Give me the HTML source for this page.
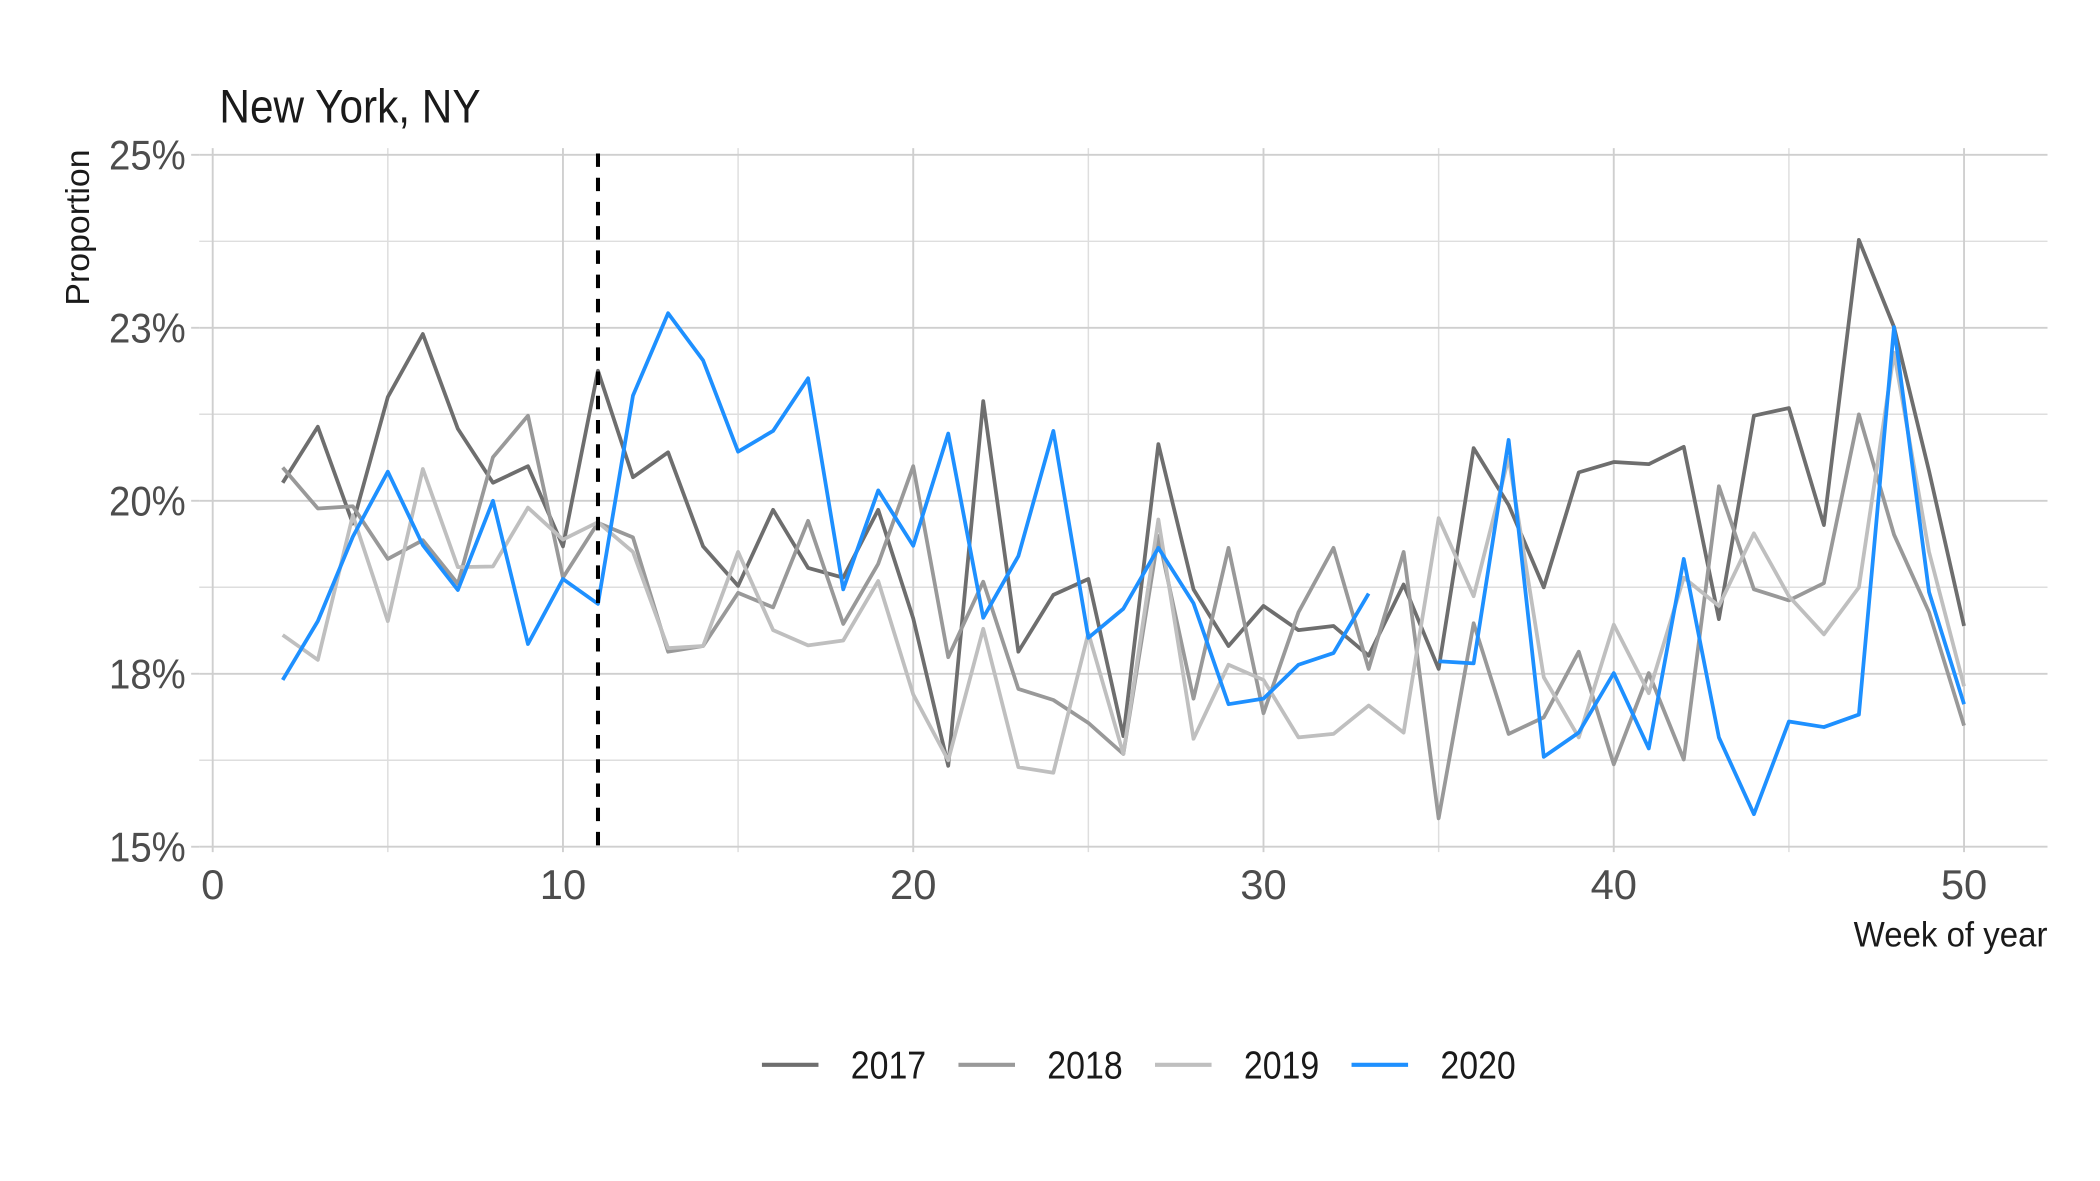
<!DOCTYPE html>
<html><head><meta charset="utf-8"><style>
html,body{margin:0;padding:0;background:#fff;}
svg{display:block;}
text{font-family:"Liberation Sans Narrow","Liberation Sans",sans-serif;}
</style></head><body>
<svg id="chart" width="2100" height="1181" viewBox="0 0 1560 877.3" xmlns="http://www.w3.org/2000/svg">
<text x="163" y="91" font-size="35" fill="#1a1a1a" textLength="194" lengthAdjust="spacingAndGlyphs">New York, NY</text>
<text transform="translate(66,169) rotate(-90)" text-anchor="middle" font-size="25" fill="#1a1a1a" textLength="116" lengthAdjust="spacingAndGlyphs">Proportion</text>
<text x="1521" y="703" text-anchor="end" font-size="26" fill="#1a1a1a" textLength="144" lengthAdjust="spacingAndGlyphs">Week of year</text>
<g id="grid"></g><g id="axes"></g><g id="series"></g><g id="legend"></g>
</svg>
<script>
const weeks = [2,3,4,5,6,7,8,9,10,11,12,13,14,15,16,17,18,19,20,21,22,23,24,25,26,27,28,29,30,31,32,33,34,35,36,37,38,39,40,41,42,43,44,45,46,47,48,49,50];
const s2017 = [20.26,21.07,19.67,21.5,22.41,21.04,20.26,20.5,19.34,21.88,20.34,20.7,19.34,18.77,19.87,19.03,18.89,19.87,18.3,16.17,21.44,17.82,18.64,18.87,16.6,20.82,18.72,17.9,18.48,18.13,18.19,17.76,18.79,17.57,20.76,19.94,18.75,20.41,20.56,20.53,20.78,18.29,21.23,21.34,19.65,23.77,22.51,20.43,18.19];
const s2018 = [20.48,19.89,19.92,19.16,19.43,18.8,20.63,21.23,18.89,19.68,19.47,17.82,17.9,18.67,18.46,19.71,18.22,19.09,20.5,17.74,18.83,17.28,17.12,16.79,16.34,19.49,17.14,19.32,16.93,18.39,19.32,17.57,19.26,15.41,18.23,16.63,16.87,17.82,16.19,17.51,16.26,20.21,18.72,18.56,18.81,21.25,19.51,18.39,16.75];
const s2019 = [18.06,17.7,19.79,18.26,20.46,19.04,19.05,19.9,19.44,19.69,19.26,17.87,17.9,19.26,18.13,17.91,17.98,18.84,17.2,16.25,18.15,16.15,16.07,18.09,16.34,19.73,16.56,17.63,17.41,16.58,16.63,17.04,16.65,19.75,18.62,20.62,17.45,16.58,18.21,17.22,18.89,18.48,19.53,18.62,18.07,18.75,22.14,19.26,17.32];
const s2020 = [17.41,18.26,19.48,20.42,19.36,18.71,20.0,17.93,18.87,18.51,21.52,22.71,22.03,20.71,21.01,21.77,18.72,20.15,19.35,20.97,18.31,19.2,21.01,18.02,18.44,19.32,18.52,17.06,17.14,17.63,17.8,18.66,null,17.68,17.65,20.88,16.3,16.65,17.51,16.42,19.16,16.58,15.47,16.81,16.73,16.91,22.51,18.68,17.06];
const yTicks = [15,17.5,20,22.5,25];
const yTickLabels = ["15%","18%","20%","23%","25%"];
const xTicks = [0,10,20,30,40,50];
const eventWeek = 11;
const seriesNames = ["2017","2018","2019","2020"];

const NS="http://www.w3.org/2000/svg";
const X0=158,X1=1459,Y0=629,Y1=115;
const px=w=>X0+(w-0)*(X1-X0)/50;
const py=v=>Y0-(v-15)*(Y0-Y1)/10;
const PL=148,PR=1521,PT=110,PB=633;
function mk(tag,attrs,parent){const e=document.createElementNS(NS,tag);for(const k in attrs)e.setAttribute(k,attrs[k]);parent.appendChild(e);return e;}
const grid=document.getElementById('grid'),axes=document.getElementById('axes'),ser=document.getElementById('series'),leg=document.getElementById('legend');
for(let i=0;i<yTicks.length-1;i++){const v=(yTicks[i]+yTicks[i+1])/2;const l=mk('line',{x1:PL,x2:PR,y1:py(v),y2:py(v),stroke:'#dedede','stroke-width':1.1},grid);

}
for(let i=0;i<xTicks.length-1;i++){const w=(xTicks[i]+xTicks[i+1])/2;const l=mk('line',{x1:px(w),x2:px(w),y1:PT,y2:PB,stroke:'#dedede','stroke-width':1.1},grid);

}
yTicks.forEach((v,i)=>{const l=mk('line',{x1:PL,x2:PR,y1:py(v),y2:py(v),stroke:'#cfcfcf','stroke-width':1.4},grid);


const t=mk('text',{x:138,y:py(v)+11,'text-anchor':'end','font-size':31,fill:'#4d4d4d',textLength:57,lengthAdjust:'spacingAndGlyphs'},axes);t.textContent=yTickLabels[i];


const tk=mk('line',{x1:PL-6,x2:PL,y1:py(v),y2:py(v),stroke:'#cfcfcf','stroke-width':1.4},axes);

});
xTicks.forEach(w=>{const l=mk('line',{x1:px(w),x2:px(w),y1:PT,y2:PB,stroke:'#cfcfcf','stroke-width':1.4},grid);


const t=mk('text',{x:px(w),y:668,'text-anchor':'middle','font-size':31,fill:'#4d4d4d'},axes);t.textContent=w;

});
const colors=['#6e6e6e','#999999','#bfbfbf','#1e90ff'];
const data=[s2017,s2018,s2019,s2020];
data.forEach((s,si)=>{let d='',pen=false;s.forEach((v,i)=>{if(v===null){pen=false;return;}d+=(pen?'L':'M')+px(weeks[i]).toFixed(1)+','+py(v).toFixed(1);pen=true;});
const p=mk('path',{d:d,fill:'none',stroke:colors[si],'stroke-width':2.8,'stroke-linejoin':'round'},ser);

});
const vl=mk('line',{x1:px(eventWeek),x2:px(eventWeek),y1:PT+4,y2:PB,stroke:'#000','stroke-width':3,'stroke-dasharray':'10,8'},ser);


seriesNames.forEach((n,i)=>{const x=566+i*146;const g=mk('g',{},leg);


mk('line',{x1:x,x2:x+42,y1:791,y2:791,stroke:colors[i],'stroke-width':3},g);
const t=mk('text',{x:x+66,y:801,'font-size':29,fill:'#1a1a1a',textLength:56,lengthAdjust:'spacingAndGlyphs'},g);t.textContent=n;});
</script>
</body></html>
